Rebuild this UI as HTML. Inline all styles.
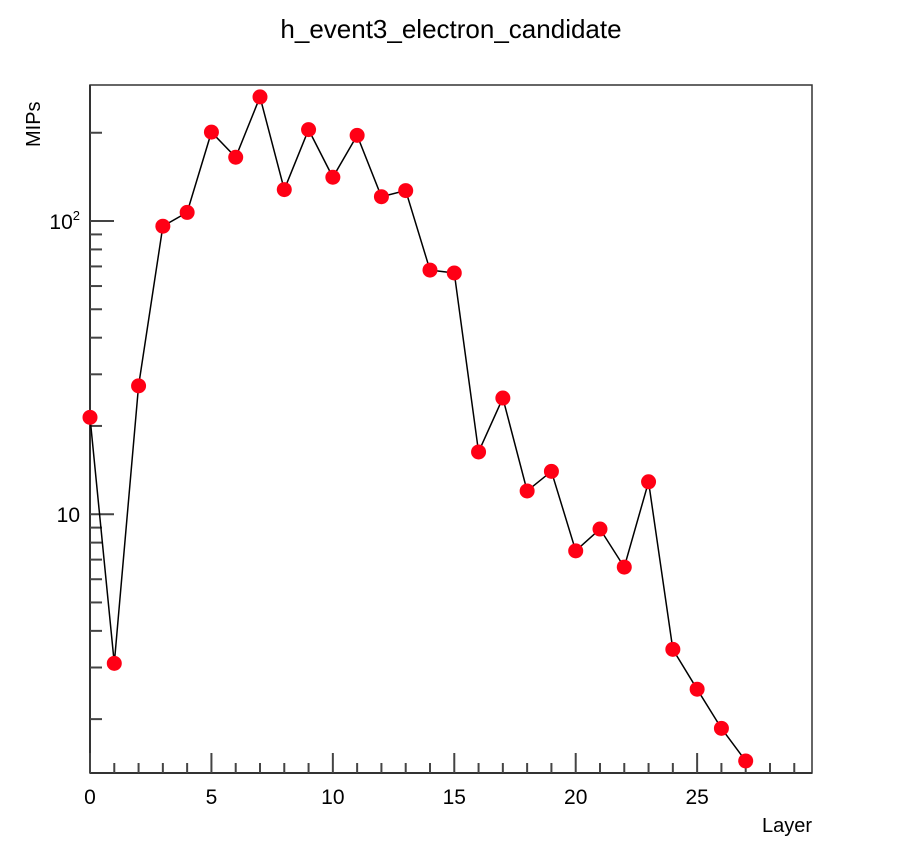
<!DOCTYPE html>
<html><head><meta charset="utf-8"><style>
html,body{margin:0;padding:0;background:#fff;}
svg{display:block;font-family:"Liberation Sans",Arial,sans-serif;}
</style></head><body>
<svg id="chart" width="903" height="862" viewBox="0 0 903 862">
<text x="451" y="38" text-anchor="middle" font-size="26" fill="#000">h_event3_electron_candidate</text>
<rect x="90" y="85" width="722" height="688" fill="none" stroke="#333" stroke-width="1.5"/>
<g id="axes"></g>
<g id="series"></g>
<text x="812" y="832" text-anchor="end" font-size="20">Layer</text>
<text transform="translate(40,147) rotate(-90)" text-anchor="start" font-size="20">MIPs</text>
</svg>
<script>
const layers=[0,1,2,3,4,5,6,7,8,9,10,11,12,13,14,15,16,17,18,19,20,21,22,23,24,25,26,27];
const mips=[21.4,3.1,27.4,96,107,201,165,265,128,205,141,196,121,127,68,66.5,16.3,24.9,12.0,14.0,7.5,8.9,6.6,12.9,3.46,2.53,1.86,1.44];
const xTicks=[0,5,10,15,20,25];
const yMajor=[10,100];
const yMinor=[2,3,4,5,6,7,8,9,20,30,40,50,60,70,80,90,200];
const X0=90,X1=812,Y0=773,Y1=85;
const xMin=0,xMax=29.73;
const yMin=Math.log10(1.31),yMax=Math.log10(291);
function sx(v){return X0+(v-xMin)/(xMax-xMin)*(X1-X0);}
function sy(v){return Y0-(Math.log10(v)-yMin)/(yMax-yMin)*(Y0-Y1);}
const NS="http://www.w3.org/2000/svg";
function mk(t,a,p){const e=document.createElementNS(NS,t);for(const k in a)e.setAttribute(k,a[k]);p.appendChild(e);return e;}
const ax=document.getElementById('axes');
mk('line',{x1:X0,y1:Y0,x2:X1,y2:Y0,stroke:'#333','stroke-width':2},ax);
mk('line',{x1:X0,y1:Y0,x2:X0,y2:Y1,stroke:'#333','stroke-width':2},ax);
for(let i=0;i<=29;i++){
 const big=i%5===0;
 const l=mk('line',{x1:sx(i),y1:Y0,x2:sx(i),y2:Y0-(big?20:10),stroke:'#444','stroke-width':2},ax);
 
 
}
xTicks.forEach(v=>{
 const t=mk('text',{x:sx(v),y:Y0+31,'text-anchor':'middle','font-size':21},ax);t.textContent=v;
 
 
});
yMinor.forEach(v=>{
 const l=mk('line',{x1:X0,y1:sy(v),x2:X0+12,y2:sy(v),stroke:'#444','stroke-width':2},ax);
 
 
});
yMajor.forEach(v=>{
 const l=mk('line',{x1:X0,y1:sy(v),x2:X0+24,y2:sy(v),stroke:'#444','stroke-width':2},ax);
 
 
 const t=mk('text',{x:X0-10,y:sy(v)+8,'text-anchor':'end','font-size':21},ax);
 if(v===100){t.innerHTML='10<tspan dy="-9" font-size="13">2</tspan>';}else{t.textContent='10';}
 
 
});
const sg=document.getElementById('series');
const pts=layers.map((x,i)=>sx(x)+','+sy(mips[i])).join(' ');
const pl=mk('polyline',{points:pts,fill:'none',stroke:'#000','stroke-width':1.5},sg);


layers.forEach((x,i)=>{
 const c=mk('circle',{cx:sx(x),cy:sy(mips[i]),r:7.5,fill:'#ff0015'},sg);
 
 
});
</script>
</body></html>
